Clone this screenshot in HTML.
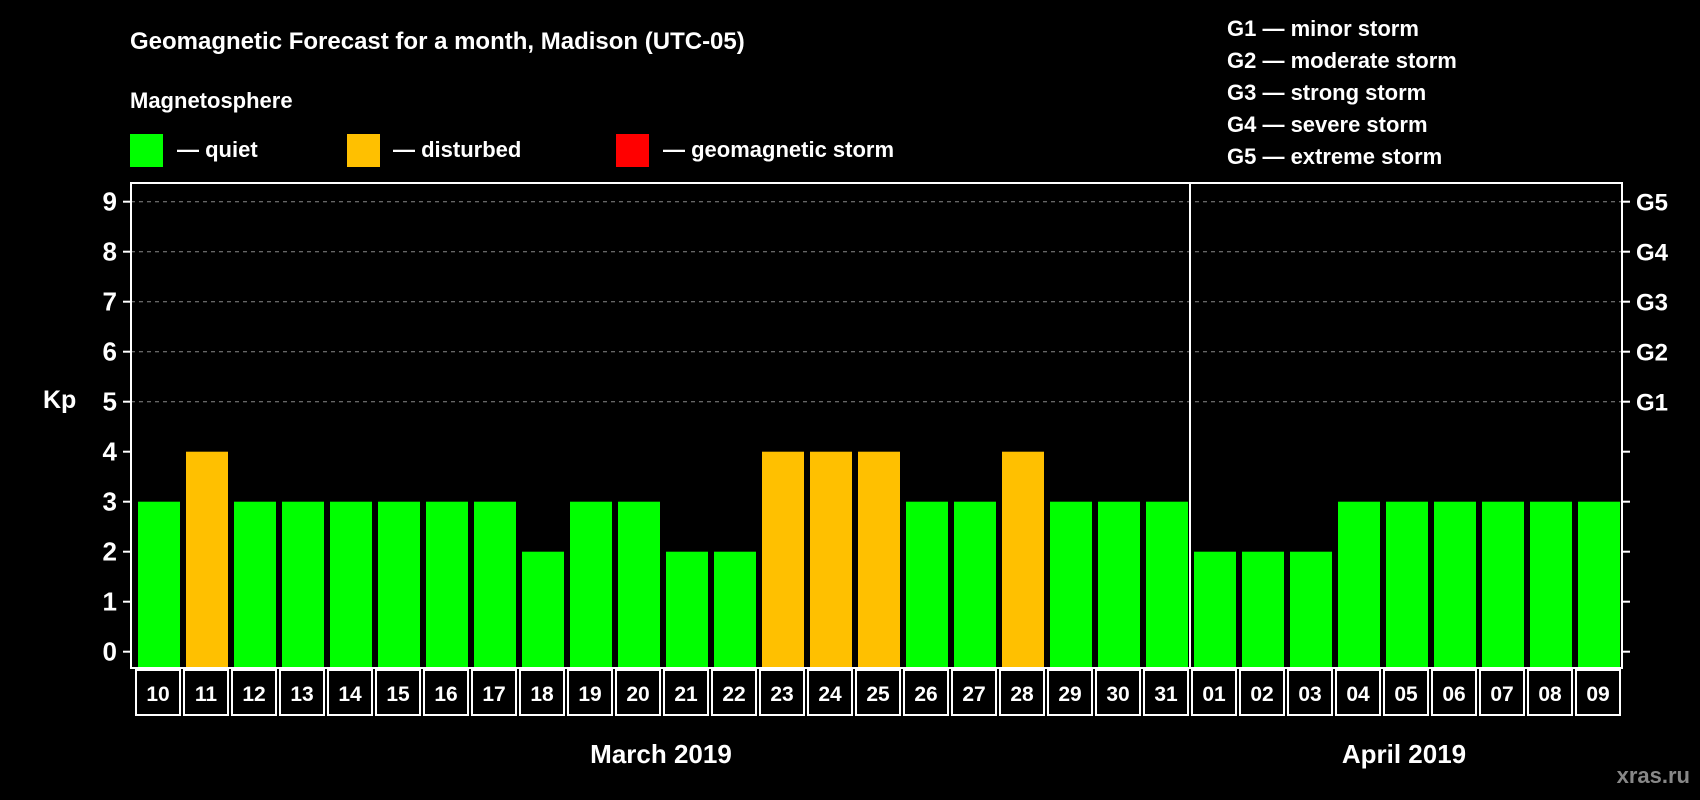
<!DOCTYPE html>
<html><head><meta charset="utf-8"><style>
body{margin:0;background:#000;}
svg{display:block;font-family:"Liberation Sans",Arial,sans-serif;font-weight:bold;}
</style></head><body>
<svg id="chart" width="1700" height="800" viewBox="0 0 1700 800">
<rect width="1700" height="800" fill="#000"/>
<text x="130" y="49" fill="#fff" font-size="24">Geomagnetic Forecast for a month, Madison (UTC-05)</text>
<text x="130" y="108" fill="#fff" font-size="22">Magnetosphere</text>
<rect x="130" y="134" width="33" height="33" fill="#00ff00"/>
<text x="177" y="157" fill="#fff" font-size="22">— quiet</text>
<rect x="347" y="134" width="33" height="33" fill="#ffc000"/>
<text x="393" y="157" fill="#fff" font-size="22">— disturbed</text>
<rect x="616" y="134" width="33" height="33" fill="#ff0000"/>
<text x="663" y="157" fill="#fff" font-size="22">— geomagnetic storm</text>
<g fill="#fff" font-size="22">
<text x="1227" y="36">G1 — minor storm</text>
<text x="1227" y="68">G2 — moderate storm</text>
<text x="1227" y="100">G3 — strong storm</text>
<text x="1227" y="132">G4 — severe storm</text>
<text x="1227" y="164">G5 — extreme storm</text>
</g>
<text x="43" y="408" fill="#fff" font-size="25">Kp</text>
<g id="grid"></g>
<g id="bars"></g>
<g id="axes"></g>
<text x="661" y="763" fill="#fff" font-size="26" text-anchor="middle">March 2019</text>
<text x="1404" y="763" fill="#fff" font-size="26" text-anchor="middle">April 2019</text>
<text x="1690" y="783" fill="#888" font-size="22" text-anchor="end">xras.ru</text>
</svg>
<script>
const days=["10","11","12","13","14","15","16","17","18","19","20","21","22","23","24","25","26","27","28","29","30","31","01","02","03","04","05","06","07","08","09"];
const kp=[3,4,3,3,3,3,3,3,2,3,3,2,2,4,4,4,3,3,4,3,3,3,2,2,2,3,3,3,3,3,3];
const yTicks=[0,1,2,3,4,5,6,7,8,9];
const gLabels=["G1","G2","G3","G4","G5"];
const marchCount=22;
const NS="http://www.w3.org/2000/svg";
const x0=134,slot=48,plotL=131,plotR=1622,plotT=183,plotB=668;
const y=v=>651.7-v*50;
const xs=i=>x0+i*slot;
function mk(t,a,p){const e=document.createElementNS(NS,t);for(const k in a)e.setAttribute(k,a[k]);p.appendChild(e);return e;}
const grid=document.getElementById('grid'),bars=document.getElementById('bars'),axes=document.getElementById('axes');
yTicks.forEach(v=>{
 if(v>=5){const l=mk('line',{x1:plotL,x2:plotR,y1:y(v),y2:y(v),stroke:'#888','stroke-width':1,'stroke-dasharray':'4,4'},grid);
 
 }
 const t=mk('line',{x1:plotL-8,x2:plotL,y1:y(v),y2:y(v),stroke:'#fff','stroke-width':2},axes);
 
 
 mk('line',{x1:plotR,x2:plotR+8,y1:y(v),y2:y(v),stroke:'#fff','stroke-width':2},axes);
 const tx=mk('text',{x:plotL-14,y:y(v)+9,fill:'#fff','font-size':26,'text-anchor':'end'},axes);tx.textContent=v;
 
 
});
gLabels.forEach((g,i)=>{const t=mk('text',{x:plotR+14,y:y(5+i)+9,fill:'#fff','font-size':24},axes);t.textContent=g;
 
 });
kp.forEach((v,i)=>{
 const r=mk('rect',{x:xs(i)+4,y:y(v),width:42,height:plotB-y(v),fill:v>=5?'#ff0000':(v>=4?'#ffc000':'#00ff00')},bars);
 
 
 const b=mk('rect',{x:xs(i)+2,y:plotB+2,width:slot-4,height:45,fill:'none',stroke:'#fff','stroke-width':2},axes);
 
 
 const t=mk('text',{x:xs(i)+slot/2,y:plotB+33,fill:'#fff','font-size':21,'text-anchor':'middle'},axes);t.textContent=days[i];
 
 
});
const fr=mk('rect',{x:plotL,y:plotT,width:plotR-plotL,height:plotB-plotT,fill:'none',stroke:'#fff','stroke-width':2},axes);


const dv=mk('line',{x1:xs(marchCount),x2:xs(marchCount),y1:plotT,y2:plotB,stroke:'#fff','stroke-width':2},axes);


</script>
</body></html>
